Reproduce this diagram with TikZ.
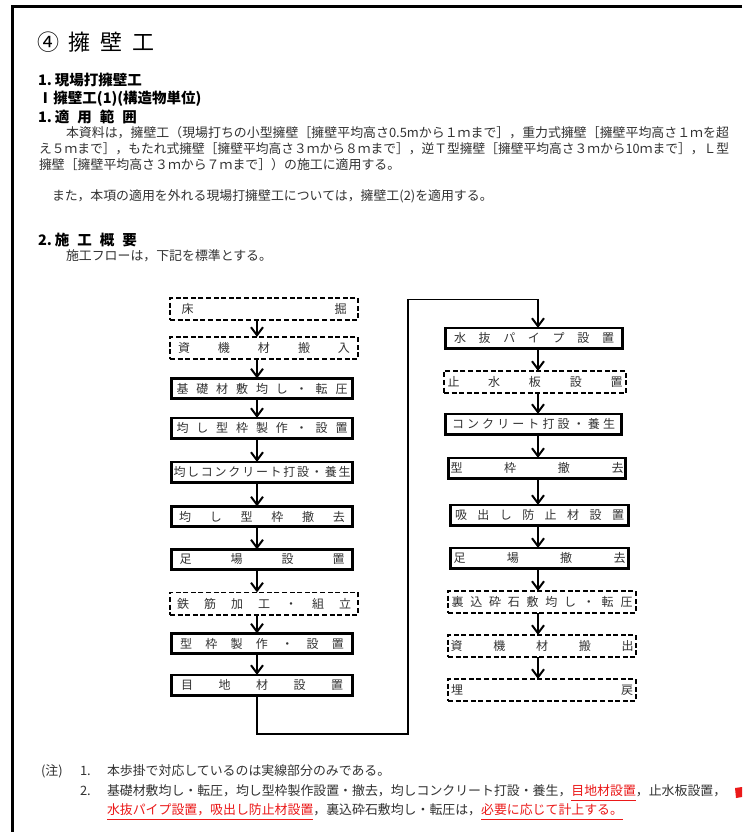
\documentclass[tikz,border=0pt]{standalone}
\usepackage{fontspec}
\usepackage{graphicx}
\setmainfont{Noto Sans CJK JP}
\usetikzlibrary{arrows.meta}
\definecolor{txtgray}{RGB}{50,50,50}
\definecolor{notered}{RGB}{235,25,25}
\newcommand\fsz[1]{\fontsize{#1pt}{#1pt}\selectfont}
\def\sprdA#1{\ifx\relax#1\else #1\expandafter\sprdB\fi}
\def\sprdB#1{\ifx\relax#1\else\hfill #1\expandafter\sprdB\fi}
\newcommand\spreadbox[2]{\makebox[#1]{\sprdA#2\relax}}
\begin{document}
\begin{tikzpicture}[x=1pt,y=-1pt,
  every node/.style={inner sep=0pt, outer sep=0pt},
  head/.style={anchor=west, font=\fsz{14.5}\bfseries},
  body/.style={anchor=west, font=\fsz{12.9}, text=txtgray},
  sbox/.style={draw, line width=2.8pt, minimum height=20.2pt, font=\fsz{12}, text=txtgray},
  dbox/.style={draw, line width=1.8pt, dash pattern=on 5pt off 2.6pt, minimum height=22.2pt, font=\fsz{12}, text=txtgray},
  arr/.style={line width=1.9pt, -{Straight Barb[length=8pt,width=12pt,line width=2pt]}},
  uline/.style={notered, line width=1.8pt},
]
\useasboundingbox (0,0) rectangle (742,832);
\fill[white] (0,0) rectangle (742,832);
% frame
\draw[line width=2.2pt] (742,6.5) -- (12.5,6.5) -- (12.5,832);

% title and headings
\node[anchor=west, font=\fsz{22}] (title) at (37,42) {④\hspace{10pt}擁\hspace{10pt}壁\hspace{10pt}工};
\node[head] (h1) at (38,80) {1.\hspace{3pt}現場打擁壁工};
\node[head] (h2) at (38,99) {Ⅰ\hspace{1pt}擁壁工(1)(構造物単位)};
\node[head] (h3) at (38,117) {1.\hspace{3pt}適\hspace{8pt}用\hspace{8pt}範\hspace{8pt}囲};
\node[body] (b1) at (66,133) {\resizebox{663pt}{\height}{本資料は，擁壁工（現場打ちの小型擁壁［擁壁平均高さ0.5mから１ｍまで］，重力式擁壁［擁壁平均高さ１ｍを超}};
\node[body] (b2) at (39,149) {\resizebox{690pt}{\height}{え５ｍまで］，もたれ式擁壁［擁壁平均高さ３ｍから８ｍまで］，逆Ｔ型擁壁［擁壁平均高さ３ｍから10ｍまで］，Ｌ型}};
\node[body] (b3) at (39,165) {擁壁［擁壁平均高さ３ｍから７ｍまで］）の施工に適用する。};
\node[body] (b4) at (52,196) {また，本項の適用を外れる現場打擁壁工については，擁壁工(2)を適用する。};
\node[head] (h4) at (38,240) {2.\hspace{3pt}施\hspace{8pt}工\hspace{8pt}概\hspace{8pt}要};
\node[body] (b5) at (66,256) {施工フローは，下記を標準とする。};

% left column
\node[dbox, minimum width=188pt] (L1) at (264,309) {\spreadbox{165pt}{床掘}};
\node[dbox, minimum width=188pt] (L2) at (264,348) {\spreadbox{172pt}{資機材搬入}};
\node[sbox, minimum width=181.2pt] (L3) at (262,388.5) {\spreadbox{171pt}{基礎材敷均し・転圧}};
\node[sbox, minimum width=181.2pt] (L4) at (262,428) {\spreadbox{171pt}{均し型枠製作・設置}};
\node[sbox, minimum width=181.2pt] (L5) at (262,472) {\spreadbox{177pt}{均しコンクリート打設・養生}};
\node[sbox, minimum width=181.2pt] (L6) at (262,516.5) {\spreadbox{166pt}{均し型枠撤去}};
\node[sbox, minimum width=181.2pt] (L7) at (262,559.5) {\spreadbox{165pt}{足場設置}};
\node[dbox, minimum width=188pt] (L8) at (264,603.5) {\spreadbox{174pt}{鉄筋加工・組立}};
\node[sbox, minimum width=181.2pt] (L9) at (262,643.5) {\spreadbox{164pt}{型枠製作・設置}};
\node[sbox, minimum width=181.2pt] (L10) at (262,685) {\spreadbox{162pt}{目地材設置}};

% right column
\node[sbox, minimum width=177.2pt] (R1) at (534,338) {\spreadbox{160pt}{水抜パイプ設置}};
\node[dbox, minimum width=182pt] (R2) at (535,382) {\spreadbox{175pt}{止水板設置}};
\node[sbox, minimum width=176.2pt] (R3) at (533.5,424) {\spreadbox{163pt}{コンクリート打設・養生}};
\node[sbox, minimum width=177.2pt] (R4) at (537,468) {\spreadbox{173pt}{型枠撤去}};
\node[sbox, minimum width=178.2pt] (R5) at (539.5,515) {\spreadbox{169pt}{吸出し防止材設置}};
\node[sbox, minimum width=178.2pt] (R6) at (539.5,558) {\spreadbox{172pt}{足場撤去}};
\node[dbox, minimum width=188pt] (R7) at (542,602) {\spreadbox{181pt}{裏込砕石敷均し・転圧}};
\node[dbox, minimum width=188pt] (R8) at (542,646) {\spreadbox{183pt}{資機材搬出}};
\node[dbox, minimum width=188pt] (R9) at (542,690) {\spreadbox{182pt}{埋戻}};

% arrows
\coordinate (axL) at (257,0);
\coordinate (axR) at (538,0);
\foreach \a/\b in {L1/L2,L2/L3,L3/L4,L4/L5,L5/L6,L6/L7,L7/L8,L8/L9,L9/L10}
  \draw[arr] (\a.south -| axL) -- (\b.north -| axL);
\foreach \a/\b in {R1/R2,R2/R3,R3/R4,R4/R5,R5/R6,R6/R7,R7/R8,R8/R9}
  \draw[arr] (\a.south -| axR) -- (\b.north -| axR);
\coordinate (c1) at (257,734);
\coordinate (c2) at (408,734);
\coordinate (c3) at (408,299.5);
\coordinate (c4) at (538,299.5);
\draw[arr] (L10.south -| axL) -- (c1) -- (c2) -- (c3) -- (c4) -- (R1.north -| axR);

% notes
\node[body] (n0) at (41,771) {(注)};
\node[body] (n1n) at (80,771) {1.};
\node[body] (n1) at (107,771) {本歩掛で対応しているのは実線部分のみである。};
\node[body] (n2n) at (80,791) {2.};
\node[body] (n2a) at (107,791) {基礎材敷均し・転圧，均し型枠製作設置・撤去，均しコンクリート打設・養生，};
\node[body, anchor=base west, text=notered] (n2b) at (n2a.base east) {目地材設置};
\node[body, anchor=base west] (n2c) at (n2b.base east) {，止水板設置，};
\node[body, text=notered] (n3a) at (107,810) {水抜パイプ設置，吸出し防止材設置};
\node[body, anchor=base west] (n3b) at (n3a.base east) {，裏込砕石敷均し・転圧は，};
\node[body, anchor=base west, text=notered] (n3c) at (n3b.base east) {必要に応じて計上する。};
\coordinate (u2) at (0,800.5);
\coordinate (u3) at (0,819.5);
\draw[uline] (n2b.west |- u2) -- (n2b.east |- u2);
\draw[uline] (n3a.west |- u3) -- (n3a.east |- u3);
\draw[uline] (n3c.west |- u3) -- (n3c.east |- u3);
\fill[notered] (735,788) -- (742,787) -- (742,797) -- (736,798) -- cycle;
\end{tikzpicture}
\end{document}
